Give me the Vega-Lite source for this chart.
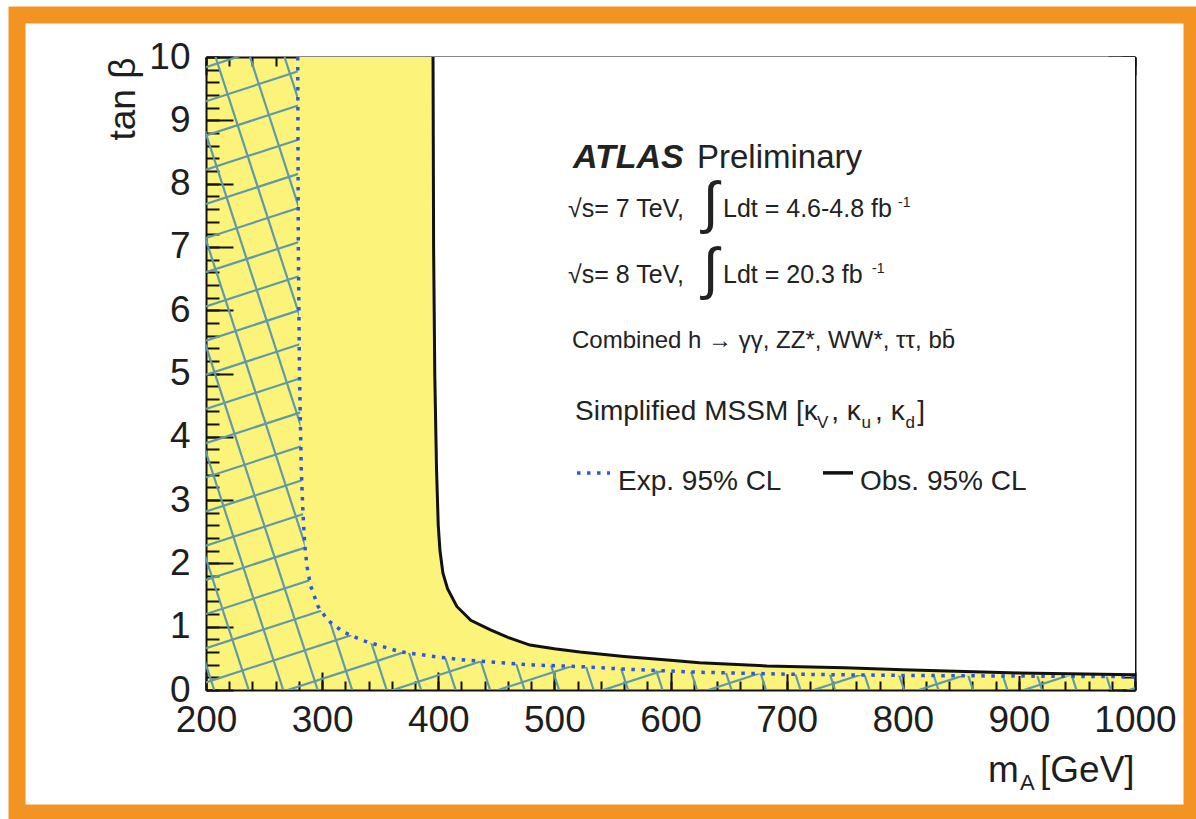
{
  "$schema": "https://vega.github.io/schema/vega-lite/v6.json",
  "width": 929,
  "height": 633,
  "autosize": {"type": "none"},
  "padding": {"left": 206, "top": 57, "right": 61, "bottom": 129},
  "background": "white",
  "config": {
    "font": "Liberation Sans",
    "view": {"fill": "#fcf47a", "stroke": null},
    "axis": {"zindex": 1, "grid": false}
  },
  "resolve": {"axis": {"x": "independent", "y": "independent"}},
  "datasets": {
    "hatch": [
      {"x": 200, "y": -4.74, "x2": 1000, "y2": 0.03},
      {"x": 200, "y": -4.20, "x2": 1000, "y2": 0.57},
      {"x": 200, "y": -3.66, "x2": 1000, "y2": 1.11},
      {"x": 200, "y": -3.12, "x2": 1000, "y2": 1.65},
      {"x": 200, "y": -2.58, "x2": 1000, "y2": 2.19},
      {"x": 200, "y": -2.04, "x2": 1000, "y2": 2.73},
      {"x": 200, "y": -1.50, "x2": 1000, "y2": 3.27},
      {"x": 200, "y": -0.96, "x2": 1000, "y2": 3.81},
      {"x": 200, "y": -0.42, "x2": 1000, "y2": 4.35},
      {"x": 200, "y": 0.12, "x2": 1000, "y2": 4.89},
      {"x": 200, "y": 0.66, "x2": 1000, "y2": 5.43},
      {"x": 200, "y": 1.20, "x2": 1000, "y2": 5.97},
      {"x": 200, "y": 1.74, "x2": 1000, "y2": 6.51},
      {"x": 200, "y": 2.28, "x2": 1000, "y2": 7.05},
      {"x": 200, "y": 2.82, "x2": 1000, "y2": 7.59},
      {"x": 200, "y": 3.36, "x2": 1000, "y2": 8.13},
      {"x": 200, "y": 3.90, "x2": 1000, "y2": 8.67},
      {"x": 200, "y": 4.44, "x2": 1000, "y2": 9.21},
      {"x": 200, "y": 4.98, "x2": 1000, "y2": 9.75},
      {"x": 200, "y": 5.52, "x2": 1000, "y2": 10.29},
      {"x": 200, "y": 6.06, "x2": 1000, "y2": 10.83},
      {"x": 200, "y": 6.60, "x2": 1000, "y2": 11.37},
      {"x": 200, "y": 7.14, "x2": 1000, "y2": 11.91},
      {"x": 200, "y": 7.68, "x2": 1000, "y2": 12.45},
      {"x": 200, "y": 8.22, "x2": 1000, "y2": 12.99},
      {"x": 200, "y": 8.76, "x2": 1000, "y2": 13.53},
      {"x": 200, "y": 9.30, "x2": 1000, "y2": 14.07},
      {"x": 200, "y": 9.84, "x2": 1000, "y2": 14.61},
      {"x": 30.0, "y": 10, "x2": 207.1, "y2": 0},
      {"x": 59.7, "y": 10, "x2": 236.8, "y2": 0},
      {"x": 89.4, "y": 10, "x2": 266.5, "y2": 0},
      {"x": 119.1, "y": 10, "x2": 296.2, "y2": 0},
      {"x": 148.8, "y": 10, "x2": 325.9, "y2": 0},
      {"x": 178.5, "y": 10, "x2": 355.6, "y2": 0},
      {"x": 208.2, "y": 10, "x2": 385.3, "y2": 0},
      {"x": 237.9, "y": 10, "x2": 415.0, "y2": 0},
      {"x": 267.6, "y": 10, "x2": 444.7, "y2": 0},
      {"x": 297.3, "y": 10, "x2": 474.4, "y2": 0},
      {"x": 327.0, "y": 10, "x2": 504.1, "y2": 0},
      {"x": 356.7, "y": 10, "x2": 533.8, "y2": 0},
      {"x": 386.4, "y": 10, "x2": 563.5, "y2": 0},
      {"x": 416.1, "y": 10, "x2": 593.2, "y2": 0},
      {"x": 445.8, "y": 10, "x2": 622.9, "y2": 0},
      {"x": 475.5, "y": 10, "x2": 652.6, "y2": 0},
      {"x": 505.2, "y": 10, "x2": 682.3, "y2": 0},
      {"x": 534.9, "y": 10, "x2": 712.0, "y2": 0},
      {"x": 564.6, "y": 10, "x2": 741.7, "y2": 0},
      {"x": 594.3, "y": 10, "x2": 771.4, "y2": 0},
      {"x": 624.0, "y": 10, "x2": 801.1, "y2": 0},
      {"x": 653.7, "y": 10, "x2": 830.8, "y2": 0},
      {"x": 683.4, "y": 10, "x2": 860.5, "y2": 0},
      {"x": 713.1, "y": 10, "x2": 890.2, "y2": 0},
      {"x": 742.8, "y": 10, "x2": 919.9, "y2": 0},
      {"x": 772.5, "y": 10, "x2": 949.6, "y2": 0},
      {"x": 802.2, "y": 10, "x2": 979.3, "y2": 0},
      {"x": 831.9, "y": 10, "x2": 1009.0, "y2": 0},
      {"x": 861.6, "y": 10, "x2": 1038.7, "y2": 0},
      {"x": 891.3, "y": 10, "x2": 1068.4, "y2": 0},
      {"x": 921.0, "y": 10, "x2": 1098.1, "y2": 0},
      {"x": 950.7, "y": 10, "x2": 1127.8, "y2": 0},
      {"x": 980.4, "y": 10, "x2": 1157.5, "y2": 0}
    ],
    "obs": [
      {"m": 395.5, "t": 10}, {"m": 396, "t": 7}, {"m": 397, "t": 5}, {"m": 398.5, "t": 3.5},
      {"m": 400, "t": 2.6}, {"m": 401.5, "t": 2.2}, {"m": 404, "t": 1.85}, {"m": 408, "t": 1.6},
      {"m": 416, "t": 1.32}, {"m": 428, "t": 1.1}, {"m": 445, "t": 0.95}, {"m": 460, "t": 0.83},
      {"m": 479, "t": 0.71}, {"m": 500, "t": 0.65}, {"m": 522, "t": 0.6}, {"m": 560, "t": 0.53},
      {"m": 600, "t": 0.47}, {"m": 625, "t": 0.43}, {"m": 683, "t": 0.38}, {"m": 750, "t": 0.35},
      {"m": 800, "t": 0.32}, {"m": 900, "t": 0.27}, {"m": 1000, "t": 0.24}
    ],
    "exp": [
      {"m": 279, "t": 10}, {"m": 279.5, "t": 7}, {"m": 280.5, "t": 5}, {"m": 282, "t": 3.5},
      {"m": 283.5, "t": 2.8}, {"m": 285, "t": 2.3}, {"m": 287, "t": 1.95}, {"m": 290, "t": 1.65},
      {"m": 296.5, "t": 1.32}, {"m": 305, "t": 1.1}, {"m": 318, "t": 0.92}, {"m": 335, "t": 0.78},
      {"m": 367, "t": 0.605}, {"m": 400, "t": 0.52}, {"m": 425, "t": 0.47}, {"m": 482, "t": 0.395},
      {"m": 522, "t": 0.37}, {"m": 560, "t": 0.33}, {"m": 625, "t": 0.28}, {"m": 700, "t": 0.25},
      {"m": 800, "t": 0.23}, {"m": 900, "t": 0.22}, {"m": 1000, "t": 0.21}
    ]
  },
  "layer": [
    {
      "data": {"values": [{}]},
      "mark": {"type": "rect", "filled": false, "stroke": "#f29322", "strokeWidth": 17, "clip": false},
      "encoding": {
        "x": {"datum": 37.25, "type": "quantitative", "scale": {"domain": [200, 1000], "nice": false, "zero": false}, "axis": null},
        "x2": {"datum": 1049.1},
        "y": {"datum": 10.664, "type": "quantitative", "scale": {"domain": [0, 10], "nice": false, "zero": false}, "axis": null},
        "y2": {"datum": -1.943}
      }
    },
    {
      "data": {"name": "hatch"},
      "mark": {"type": "rule", "stroke": "#5f9aaa", "strokeWidth": 2.2, "clip": true},
      "encoding": {
        "x": {"field": "x", "type": "quantitative", "scale": {"domain": [200, 1000], "nice": false, "zero": false},
          "axis": {"orient": "bottom", "values": [200, 300, 400, 500, 600, 700, 800, 900, 1000], "tickSize": -18, "tickWidth": 2, "tickColor": "#111", "domain": true, "domainColor": "#111", "domainWidth": 2, "labelFontSize": 37, "labelColor": "#1e1e1e", "labelPadding": 30, "labelFlush": false, "labelOverlap": false, "format": "d", "title": null}},
        "x2": {"field": "x2"},
        "y": {"field": "y", "type": "quantitative", "scale": {"domain": [0, 10], "nice": false, "zero": false},
          "axis": {"orient": "left", "values": [0, 1, 2, 3, 4, 5, 6, 7, 8, 9, 10], "tickSize": -27, "tickWidth": 2, "tickColor": "#111", "domain": true, "domainColor": "#111", "domainWidth": 2, "labelFontSize": 37, "labelColor": "#1e1e1e", "labelPadding": 43, "labelFlush": false, "labelOverlap": false, "format": "d", "title": "tan β", "titleFontSize": 37, "titleFontWeight": "normal", "titleColor": "#1e1e1e", "titleAnchor": "end", "titlePadding": 6}},
        "y2": {"field": "y2"}
      }
    },
    {
      "data": {"name": "exp"},
      "mark": {"type": "area", "color": "#fcf47a", "opacity": 1},
      "encoding": {
        "x": {"field": "m", "type": "quantitative", "scale": {"domain": [200, 1000], "nice": false, "zero": false},
          "axis": {"orient": "bottom", "values": [200, 220, 240, 260, 280, 300, 320, 340, 360, 380, 400, 420, 440, 460, 480, 500, 520, 540, 560, 580, 600, 620, 640, 660, 680, 700, 720, 740, 760, 780, 800, 820, 840, 860, 880, 900, 920, 940, 960, 980, 1000], "tickSize": -9, "tickWidth": 2, "tickColor": "#111", "domain": false, "labels": false, "title": null}},
        "y": {"field": "t", "type": "quantitative", "scale": {"domain": [0, 10], "nice": false, "zero": false},
          "axis": {"orient": "left", "values": [0, 0.2, 0.4, 0.6, 0.8, 1, 1.2, 1.4, 1.6, 1.8, 2, 2.2, 2.4, 2.6, 2.8, 3, 3.2, 3.4, 3.6, 3.8, 4, 4.2, 4.4, 4.6, 4.8, 5, 5.2, 5.4, 5.6, 5.8, 6, 6.2, 6.4, 6.6, 6.8, 7, 7.2, 7.4, 7.6, 7.8, 8, 8.2, 8.4, 8.6, 8.8, 9, 9.2, 9.4, 9.6, 9.8, 10], "tickSize": -13, "tickWidth": 2, "tickColor": "#111", "domain": false, "labels": false, "title": null}},
        "y2": {"datum": 10}
      }
    },
    {
      "data": {"name": "obs"},
      "mark": {"type": "area", "color": "white", "opacity": 1},
      "encoding": {
        "x": {"field": "m", "type": "quantitative", "scale": {"domain": [200, 1000], "nice": false, "zero": false},
          "axis": {"orient": "top", "values": [200, 300, 400, 500, 600, 700, 800, 900, 1000], "tickSize": -18, "tickWidth": 2, "tickColor": "#111", "domain": true, "domainColor": "#111", "domainWidth": 2, "labels": false, "title": null}},
        "y": {"field": "t", "type": "quantitative", "scale": {"domain": [0, 10], "nice": false, "zero": false},
          "axis": {"orient": "right", "values": [0, 1, 2, 3, 4, 5, 6, 7, 8, 9, 10], "tickSize": -27, "tickWidth": 2, "tickColor": "#111", "domain": true, "domainColor": "#111", "domainWidth": 2, "labels": false, "title": null}},
        "y2": {"datum": 10}
      }
    },
    {
      "data": {"name": "exp"},
      "mark": {"type": "line", "stroke": "#2f55e6", "strokeWidth": 3.5, "strokeDash": [3.5, 6.5], "strokeCap": "butt"},
      "encoding": {
        "x": {"field": "m", "type": "quantitative", "scale": {"domain": [200, 1000], "nice": false, "zero": false},
          "axis": {"orient": "top", "values": [200, 220, 240, 260, 280, 300, 320, 340, 360, 380, 400, 420, 440, 460, 480, 500, 520, 540, 560, 580, 600, 620, 640, 660, 680, 700, 720, 740, 760, 780, 800, 820, 840, 860, 880, 900, 920, 940, 960, 980, 1000], "tickSize": -9, "tickWidth": 2, "tickColor": "#111", "domain": false, "labels": false, "title": null}},
        "y": {"field": "t", "type": "quantitative", "scale": {"domain": [0, 10], "nice": false, "zero": false},
          "axis": {"orient": "right", "values": [0, 0.2, 0.4, 0.6, 0.8, 1, 1.2, 1.4, 1.6, 1.8, 2, 2.2, 2.4, 2.6, 2.8, 3, 3.2, 3.4, 3.6, 3.8, 4, 4.2, 4.4, 4.6, 4.8, 5, 5.2, 5.4, 5.6, 5.8, 6, 6.2, 6.4, 6.6, 6.8, 7, 7.2, 7.4, 7.6, 7.8, 8, 8.2, 8.4, 8.6, 8.8, 9, 9.2, 9.4, 9.6, 9.8, 10], "tickSize": -13, "tickWidth": 2, "tickColor": "#111", "domain": false, "labels": false, "title": null}}
      }
    },
    {
      "data": {"name": "obs"},
      "mark": {"type": "line", "stroke": "#111111", "strokeWidth": 3},
      "encoding": {
        "x": {"field": "m", "type": "quantitative", "scale": {"domain": [200, 1000], "nice": false, "zero": false}, "axis": null},
        "y": {"field": "t", "type": "quantitative", "scale": {"domain": [0, 10], "nice": false, "zero": false}, "axis": null}
      }
    },
    {
      "data": {"values": [{"m": 519.5, "m2": 547.9, "t": 3.43}]},
      "mark": {"type": "rule", "stroke": "#2f55e6", "strokeWidth": 3.5, "strokeDash": [3.5, 6.5], "strokeCap": "butt"},
      "encoding": {
        "x": {"field": "m", "type": "quantitative", "scale": {"domain": [200, 1000], "nice": false, "zero": false}, "axis": null},
        "x2": {"field": "m2"},
        "y": {"field": "t", "type": "quantitative", "scale": {"domain": [0, 10], "nice": false, "zero": false}, "axis": null}
      }
    },
    {
      "data": {"values": [{"m": 731.3, "m2": 757.2, "t": 3.43}]},
      "mark": {"type": "rule", "stroke": "#111111", "strokeWidth": 3.5},
      "encoding": {
        "x": {"field": "m", "type": "quantitative", "scale": {"domain": [200, 1000], "nice": false, "zero": false}, "axis": null},
        "x2": {"field": "m2"},
        "y": {"field": "t", "type": "quantitative", "scale": {"domain": [0, 10], "nice": false, "zero": false}, "axis": null}
      }
    },
    {
      "data": {"values": [{"m": 516.0, "t": 8.246, "label": "ATLAS"}]},
      "mark": {"type": "text", "align": "left", "baseline": "alphabetic", "fontSize": 34, "fontWeight": "bold", "fontStyle": "italic", "color": "#222"},
      "encoding": {
        "x": {"field": "m", "type": "quantitative", "scale": {"domain": [200, 1000], "nice": false, "zero": false}, "axis": null},
        "y": {"field": "t", "type": "quantitative", "scale": {"domain": [0, 10], "nice": false, "zero": false}, "axis": null},
        "text": {"field": "label"}
      }
    },
    {
      "data": {"values": [{"m": 622.8, "t": 8.246, "label": "Preliminary"}]},
      "mark": {"type": "text", "align": "left", "baseline": "alphabetic", "fontSize": 33, "color": "#222"},
      "encoding": {
        "x": {"field": "m", "type": "quantitative", "scale": {"domain": [200, 1000], "nice": false, "zero": false}, "axis": null},
        "y": {"field": "t", "type": "quantitative", "scale": {"domain": [0, 10], "nice": false, "zero": false}, "axis": null},
        "text": {"field": "label"}
      }
    },
    {
      "data": {"values": [
        {"m": 511.7, "t": 7.47, "label": "√s= 7 TeV,"},
        {"m": 645.2, "t": 7.47, "label": "Ldt = 4.6-4.8 fb"},
        {"m": 511.7, "t": 6.43, "label": "√s= 8 TeV,"},
        {"m": 645.2, "t": 6.43, "label": "Ldt = 20.3 fb"}
      ]},
      "mark": {"type": "text", "align": "left", "baseline": "alphabetic", "fontSize": 25, "color": "#222"},
      "encoding": {
        "x": {"field": "m", "type": "quantitative", "scale": {"domain": [200, 1000], "nice": false, "zero": false}, "axis": null},
        "y": {"field": "t", "type": "quantitative", "scale": {"domain": [0, 10], "nice": false, "zero": false}, "axis": null},
        "text": {"field": "label"}
      }
    },
    {
      "data": {"values": [
        {"m": 628.0, "t": 7.395, "label": "∫"},
        {"m": 628.0, "t": 6.353, "label": "∫"}
      ]},
      "mark": {"type": "text", "align": "left", "baseline": "alphabetic", "fontSize": 57, "color": "#222"},
      "encoding": {
        "x": {"field": "m", "type": "quantitative", "scale": {"domain": [200, 1000], "nice": false, "zero": false}, "axis": null},
        "y": {"field": "t", "type": "quantitative", "scale": {"domain": [0, 10], "nice": false, "zero": false}, "axis": null},
        "text": {"field": "label"}
      }
    },
    {
      "data": {"values": [
        {"m": 795.9, "t": 7.63, "label": "-1"},
        {"m": 773.5, "t": 6.59, "label": "-1"}
      ]},
      "mark": {"type": "text", "align": "left", "baseline": "alphabetic", "fontSize": 14, "color": "#222"},
      "encoding": {
        "x": {"field": "m", "type": "quantitative", "scale": {"domain": [200, 1000], "nice": false, "zero": false}, "axis": null},
        "y": {"field": "t", "type": "quantitative", "scale": {"domain": [0, 10], "nice": false, "zero": false}, "axis": null},
        "text": {"field": "label"}
      }
    },
    {
      "data": {"values": [{"m": 515.2, "t": 5.40, "label": "Combined h → γγ, ZZ*, WW*, ττ, bb̄"}]},
      "mark": {"type": "text", "align": "left", "baseline": "alphabetic", "fontSize": 24, "color": "#222"},
      "encoding": {
        "x": {"field": "m", "type": "quantitative", "scale": {"domain": [200, 1000], "nice": false, "zero": false}, "axis": null},
        "y": {"field": "t", "type": "quantitative", "scale": {"domain": [0, 10], "nice": false, "zero": false}, "axis": null},
        "text": {"field": "label"}
      }
    },
    {
      "data": {"values": [
        {"m": 517.8, "t": 4.27, "label": "Simplified MSSM [κ"},
        {"m": 738.4, "t": 4.27, "label": ", κ"},
        {"m": 776.2, "t": 4.27, "label": ", κ"},
        {"m": 812.4, "t": 4.27, "label": "]"}
      ]},
      "mark": {"type": "text", "align": "left", "baseline": "alphabetic", "fontSize": 28, "color": "#222"},
      "encoding": {
        "x": {"field": "m", "type": "quantitative", "scale": {"domain": [200, 1000], "nice": false, "zero": false}, "axis": null},
        "y": {"field": "t", "type": "quantitative", "scale": {"domain": [0, 10], "nice": false, "zero": false}, "axis": null},
        "text": {"field": "label"}
      }
    },
    {
      "data": {"values": [
        {"m": 726.2, "t": 4.14, "label": "V"},
        {"m": 764.4, "t": 4.14, "label": "u"},
        {"m": 802.3, "t": 4.14, "label": "d"}
      ]},
      "mark": {"type": "text", "align": "left", "baseline": "alphabetic", "fontSize": 17, "color": "#222"},
      "encoding": {
        "x": {"field": "m", "type": "quantitative", "scale": {"domain": [200, 1000], "nice": false, "zero": false}, "axis": null},
        "y": {"field": "t", "type": "quantitative", "scale": {"domain": [0, 10], "nice": false, "zero": false}, "axis": null},
        "text": {"field": "label"}
      }
    },
    {
      "data": {"values": [
        {"m": 554.8, "t": 3.16, "label": "Exp. 95% CL"},
        {"m": 763.2, "t": 3.16, "label": "Obs. 95% CL"}
      ]},
      "mark": {"type": "text", "align": "left", "baseline": "alphabetic", "fontSize": 28, "color": "#222"},
      "encoding": {
        "x": {"field": "m", "type": "quantitative", "scale": {"domain": [200, 1000], "nice": false, "zero": false}, "axis": null},
        "y": {"field": "t", "type": "quantitative", "scale": {"domain": [0, 10], "nice": false, "zero": false}, "axis": null},
        "text": {"field": "label"}
      }
    },
    {
      "data": {"values": [
        {"m": 873.4, "t": -1.449, "label": "m"},
        {"m": 918.2, "t": -1.449, "label": "[GeV]"}
      ]},
      "mark": {"type": "text", "align": "left", "baseline": "alphabetic", "fontSize": 37, "color": "#1e1e1e", "clip": false},
      "encoding": {
        "x": {"field": "m", "type": "quantitative", "scale": {"domain": [200, 1000], "nice": false, "zero": false}, "axis": null},
        "y": {"field": "t", "type": "quantitative", "scale": {"domain": [0, 10], "nice": false, "zero": false}, "axis": null},
        "text": {"field": "label"}
      }
    },
    {
      "data": {"values": [{"m": 901.0, "t": -1.58, "label": "A"}]},
      "mark": {"type": "text", "align": "left", "baseline": "alphabetic", "fontSize": 22, "color": "#1e1e1e", "clip": false},
      "encoding": {
        "x": {"field": "m", "type": "quantitative", "scale": {"domain": [200, 1000], "nice": false, "zero": false}, "axis": null},
        "y": {"field": "t", "type": "quantitative", "scale": {"domain": [0, 10], "nice": false, "zero": false}, "axis": null},
        "text": {"field": "label"}
      }
    }
  ]
}
